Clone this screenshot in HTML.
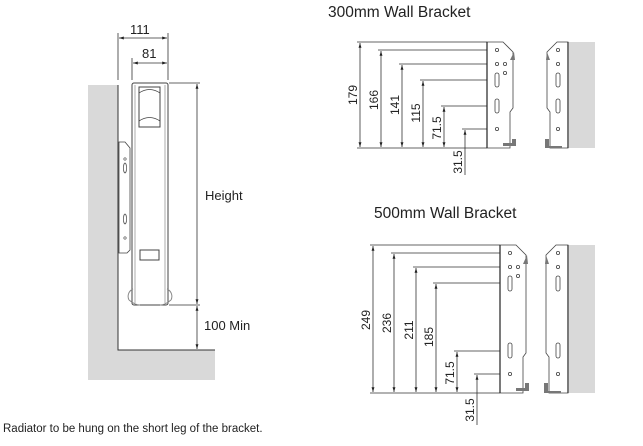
<!DOCTYPE html>
<html><head><style>
body{margin:0;background:#fff}
svg{display:block}
text{font-family:"Liberation Sans",sans-serif;fill:#222}
</style></head><body>
<svg width="643" height="446" viewBox="0 0 643 446" xmlns="http://www.w3.org/2000/svg">
<defs>
<marker id="a" viewBox="0 0 10 10" refX="10" refY="5" markerWidth="6" markerHeight="6" orient="auto-start-reverse"><path d="M0,2 L10,5 L0,8z" fill="#222"/></marker>
</defs>
<!-- left: wall & floor -->
<rect x="88" y="85" width="30" height="295" fill="#d9d9d9"/>
<rect x="118" y="350" width="97" height="30" fill="#d9d9d9"/>
<path d="M118,85 V350 H215" fill="none" stroke="#333" stroke-width="1"/>
<!-- radiator -->
<rect x="132" y="83" width="36" height="222" rx="2" fill="#fff" stroke="#444"/>
<line x1="135" y1="85" x2="135" y2="303" stroke="#888" stroke-width="0.7"/>
<line x1="165" y1="85" x2="165" y2="303" stroke="#888" stroke-width="0.7"/>
<rect x="139" y="87" width="21" height="40" fill="#fff" stroke="#444"/>
<path d="M139,93 Q149.5,86 160,93 M139,121 Q149.5,114 160,121" fill="none" stroke="#444" stroke-width="0.8"/>
<rect x="140" y="250" width="19" height="10" fill="#fff" stroke="#444"/>
<path d="M129,300 A8,8 0 0 1 133,289 M171,300 A8,8 0 0 0 167,289" fill="none" stroke="#888"/>
<path d="M129,300 Q135,305 140,305 M171,300 Q165,305 160,305" fill="none" stroke="#888"/>
<!-- small bracket -->
<path d="M119,142 H125 L130,148 V250 L127,253 H119 Z" fill="#fff" stroke="#444" stroke-width="0.8"/>
<ellipse cx="125" cy="168" rx="1.5" ry="5" fill="none" stroke="#444" stroke-width="0.7"/>
<ellipse cx="125" cy="219" rx="1.5" ry="5" fill="none" stroke="#444" stroke-width="0.7"/>
<circle cx="125" cy="159" r="1.2" fill="none" stroke="#444" stroke-width="0.6"/>
<circle cx="125" cy="238" r="1.2" fill="none" stroke="#444" stroke-width="0.6"/>
<!-- dims left -->
<g stroke="#333" stroke-width="0.8" fill="none">
<line x1="118" y1="33" x2="118" y2="80"/><line x1="168" y1="33" x2="168" y2="80"/>
<line x1="132" y1="58" x2="132" y2="80"/>
<line x1="119" y1="38" x2="167" y2="38" marker-start="url(#a)" marker-end="url(#a)"/>
<line x1="133" y1="63" x2="167" y2="63" marker-start="url(#a)" marker-end="url(#a)"/>
<line x1="169" y1="83" x2="200" y2="83"/><line x1="169" y1="305" x2="200" y2="305"/>
<line x1="197" y1="84" x2="197" y2="304" marker-start="url(#a)" marker-end="url(#a)"/>
<line x1="197" y1="306" x2="197" y2="349" marker-start="url(#a)" marker-end="url(#a)"/>
</g>
<text x="130" y="34" font-size="13">111</text>
<text x="142" y="58" font-size="13">81</text>
<text x="205" y="200" font-size="13">Height</text>
<text x="204" y="330" font-size="13">100 Min</text>
<!-- titles -->
<text x="328" y="17" font-size="15.5">300mm Wall Bracket</text>
<text x="374" y="218" font-size="15.5">500mm Wall Bracket</text>
<text x="3" y="432" font-size="11.5">Radiator to be hung on the short leg of the bracket.</text>

<!-- 300 bracket dims -->
<g stroke="#333" stroke-width="0.8" fill="none">
<line x1="357" y1="42" x2="487" y2="42"/><line x1="357" y1="148" x2="487" y2="148"/>
<line x1="378" y1="50" x2="497" y2="50"/><line x1="399" y1="64" x2="497" y2="64"/>
<line x1="420" y1="80" x2="494" y2="80"/><line x1="441" y1="106" x2="494" y2="106"/>
<line x1="462" y1="129" x2="497" y2="129"/>
<line x1="360" y1="43" x2="360" y2="147" marker-start="url(#a)" marker-end="url(#a)"/>
<line x1="381" y1="51" x2="381" y2="147" marker-start="url(#a)" marker-end="url(#a)"/>
<line x1="402" y1="65" x2="402" y2="147" marker-start="url(#a)" marker-end="url(#a)"/>
<line x1="423" y1="81" x2="423" y2="147" marker-start="url(#a)" marker-end="url(#a)"/>
<line x1="444" y1="107" x2="444" y2="147" marker-start="url(#a)" marker-end="url(#a)"/>
<line x1="465" y1="175" x2="465" y2="130" marker-end="url(#a)"/>
</g>
<g font-size="12">
<text transform="translate(357,95) rotate(-90)" text-anchor="middle">179</text>
<text transform="translate(378,100) rotate(-90)" text-anchor="middle">166</text>
<text transform="translate(399,105) rotate(-90)" text-anchor="middle">141</text>
<text transform="translate(420,113) rotate(-90)" text-anchor="middle">115</text>
<text transform="translate(441,128) rotate(-90)" text-anchor="middle">71.5</text>
<text transform="translate(462,162) rotate(-90)" text-anchor="middle">31.5</text>
</g>
<!-- 300 bracket plate -->
<g stroke="#444" stroke-width="0.8" fill="#fff">
<path d="M487,42 H503 L513,52 V108 L510,112 V148 H487 Z"/>
<line x1="487" y1="42" x2="487" y2="148" stroke="#222" stroke-width="1.2"/>
<circle cx="497" cy="50" r="1.6"/><circle cx="497" cy="64" r="1.6"/><circle cx="505" cy="64" r="1.6"/><circle cx="505" cy="73" r="1.6"/>
<rect x="495" y="73" width="4" height="14" rx="2"/><rect x="495" y="99" width="4" height="14" rx="2"/>
<circle cx="497" cy="129" r="1.6"/>
</g>
<path d="M514,52 L510,60 L515,60 Z M503,146 H516 V139 L512,139 V143 H503Z" fill="#777"/>
<!-- 300 side view -->
<rect x="569" y="42" width="26" height="106" fill="#d9d9d9"/>
<g stroke="#444" stroke-width="0.8" fill="#fff">
<path d="M568,42 H557 L547,52 V108 L550,112 V148 H568 Z"/>
<line x1="568" y1="42" x2="568" y2="148" stroke="#222" stroke-width="1.2"/>
<circle cx="558" cy="50" r="1.6"/><circle cx="558" cy="64" r="1.6"/>
<rect x="556" y="73" width="4" height="14" rx="2"/><rect x="556" y="99" width="4" height="14" rx="2"/>
<circle cx="558" cy="129" r="1.6"/>
</g>
<path d="M547,52 L550,60 L546,60 Z M545,139 H549 V146 H562 V148 H545Z" fill="#777"/>

<!-- 500 bracket dims -->
<g stroke="#333" stroke-width="0.8" fill="none">
<line x1="370" y1="245" x2="500" y2="245"/><line x1="370" y1="393" x2="500" y2="393"/>
<line x1="391" y1="253" x2="510" y2="253"/><line x1="413" y1="267" x2="510" y2="267"/>
<line x1="433" y1="283" x2="507" y2="283"/><line x1="454" y1="351" x2="507" y2="351"/>
<line x1="474" y1="374" x2="510" y2="374"/>
<line x1="373" y1="246" x2="373" y2="392" marker-start="url(#a)" marker-end="url(#a)"/>
<line x1="394" y1="254" x2="394" y2="392" marker-start="url(#a)" marker-end="url(#a)"/>
<line x1="416" y1="268" x2="416" y2="392" marker-start="url(#a)" marker-end="url(#a)"/>
<line x1="436" y1="284" x2="436" y2="392" marker-start="url(#a)" marker-end="url(#a)"/>
<line x1="457" y1="352" x2="457" y2="392" marker-start="url(#a)" marker-end="url(#a)"/>
<line x1="477" y1="425" x2="477" y2="375" marker-end="url(#a)"/>
</g>
<g font-size="12">
<text transform="translate(370,320) rotate(-90)" text-anchor="middle">249</text>
<text transform="translate(391,323) rotate(-90)" text-anchor="middle">236</text>
<text transform="translate(413,330) rotate(-90)" text-anchor="middle">211</text>
<text transform="translate(433,337) rotate(-90)" text-anchor="middle">185</text>
<text transform="translate(454,373) rotate(-90)" text-anchor="middle">71.5</text>
<text transform="translate(474,410) rotate(-90)" text-anchor="middle">31.5</text>
</g>
<g stroke="#444" stroke-width="0.8" fill="#fff">
<path d="M500,245 H516 L526,255 V353 L523,357 V393 H500 Z"/>
<line x1="500" y1="245" x2="500" y2="393" stroke="#222" stroke-width="1.2"/>
<circle cx="510" cy="253" r="1.6"/><circle cx="510" cy="267" r="1.6"/><circle cx="518" cy="267" r="1.6"/><circle cx="518" cy="276" r="1.6"/>
<rect x="508" y="276" width="4" height="15" rx="2"/><rect x="508" y="343" width="4" height="15" rx="2"/>
<circle cx="510" cy="374" r="1.6"/>
</g>
<path d="M527,255 L523,264 L528,264 Z M516,391 H529 V383 L525,383 V388 H516Z" fill="#777"/>
<rect x="569" y="245" width="26" height="148" fill="#d9d9d9"/>
<g stroke="#444" stroke-width="0.8" fill="#fff">
<path d="M568,245 H556 L546,255 V353 L549,357 V393 H568 Z"/>
<line x1="568" y1="245" x2="568" y2="393" stroke="#222" stroke-width="1.2"/>
<circle cx="558" cy="253" r="1.6"/><circle cx="558" cy="267" r="1.6"/>
<rect x="556" y="276" width="4" height="15" rx="2"/><rect x="556" y="343" width="4" height="15" rx="2"/>
<circle cx="558" cy="374" r="1.6"/>
</g>
<path d="M546,255 L549,264 L545,264 Z M544,383 H548 V391 H561 V393 H544Z" fill="#777"/>
</svg>
</body></html>
